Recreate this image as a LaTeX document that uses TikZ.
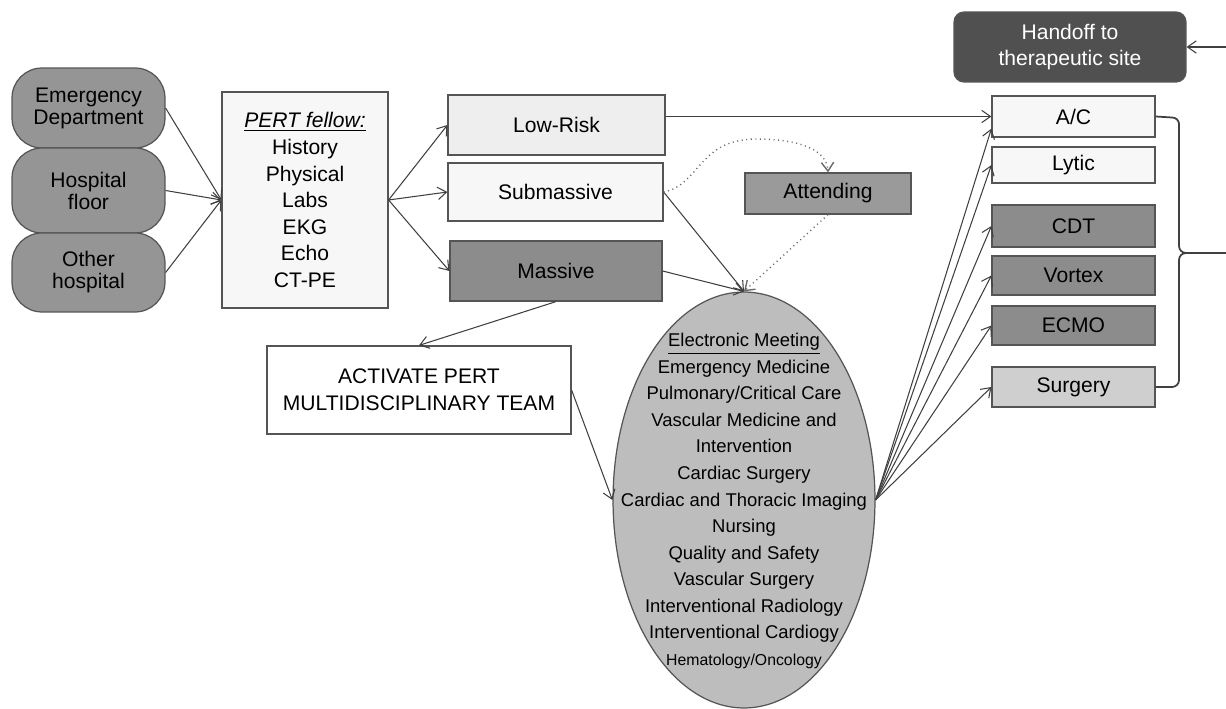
\documentclass[tikz,border=0pt]{standalone}
\usepackage{fontspec}
\setmainfont{Liberation Sans}
\usetikzlibrary{arrows.meta,shapes.geometric}
\definecolor{bordc}{HTML}{555555}
\definecolor{linec}{HTML}{404040}
\definecolor{srcfill}{HTML}{959595}
\definecolor{lightfill}{HTML}{F7F7F7}
\definecolor{lowfill}{HTML}{EEEEEE}
\definecolor{darkfill}{HTML}{8C8C8C}
\definecolor{attfill}{HTML}{9A9A9A}
\definecolor{ellfill}{HTML}{BDBDBD}
\definecolor{surgfill}{HTML}{CFCFCF}
\definecolor{handfill}{HTML}{505050}
\definecolor{dotc}{HTML}{6A6A6A}
\tikzset{
  box/.style={draw=bordc, line width=0.7pt, rectangle, inner sep=0pt, align=center,
     font=\fontsize{12}{15.1}\selectfont},
  srcbox/.style={box, fill=srcfill, rounded corners=0.6cm, minimum width=3.06cm,
     font=\fontsize{12}{12.5}\selectfont},
  rbox/.style={box, minimum width=3.26cm},
  conn/.style={draw=linec, line width=0.6pt, -{Straight Barb[length=5pt,width=7pt]}},
  dotconn/.style={conn, dotted, draw=dotc, line width=0.8pt},
  ellbox/.style={draw=bordc, line width=0.7pt, ellipse, fill=ellfill, inner sep=0pt,
     minimum width=5.24cm, minimum height=8.32cm},
  brace/.style={draw=linec, line width=1pt}
}
\begin{document}
\begin{tikzpicture}[x=0.02cm,y=-0.02cm]
\useasboundingbox (0,0) rectangle (1226,709);
% sources
\node[srcbox, minimum height=1.6cm] (ed) at (88.5,108) {Emergency\\Department};
\node[srcbox, minimum height=1.7cm] (hf) at (88.5,190.5) {Hospital\\floor};
\node[srcbox, minimum height=1.58cm] (oh) at (88.5,272.5) {Other\\hospital};
% PERT fellow
\node[box, fill=lightfill, minimum width=3.32cm, minimum height=4.32cm] (pert) at (305,200)
  {\textit{\underline{PERT fellow:}}\\History\\Physical\\Labs\\EKG\\Echo\\CT-PE};
% risk
\node[box, fill=lowfill, minimum width=4.34cm, minimum height=1.2cm] (low) at (556.5,125) {Low-Risk};
\node[box, fill=lightfill, minimum width=4.3cm, minimum height=1.16cm] (sub) at (555.5,192) {Submassive};
\node[box, fill=darkfill, minimum width=4.24cm, minimum height=1.2cm] (mass) at (556,271) {Massive};
\node[box, fill=attfill, minimum width=3.32cm, minimum height=0.82cm] (att) at (828,193.5) {Attending};
% activate
\node[box, fill=white, minimum width=6.08cm, minimum height=1.76cm] (act) at (419,390)
  {ACTIVATE PERT\\MULTIDISCIPLINARY TEAM};
% ellipse
\node[ellbox] (ell) at (744,500) {};
\node[align=center, inner sep=0pt, font=\fontsize{10.5}{15.1}\selectfont] (team) at (744,501)
  {\underline{Electronic Meeting}\\Emergency Medicine\\Pulmonary/Critical Care\\Vascular Medicine and\\Intervention\\Cardiac Surgery\\Cardiac and Thoracic Imaging\\Nursing\\Quality and Safety\\Vascular Surgery\\Interventional Radiology\\Interventional Cardiogy\\{\fontsize{9}{15.1}\selectfont Hematology/Oncology}};
% therapies
\node[rbox, fill=lightfill, minimum height=0.82cm] (ac) at (1073.5,116.5) {A/C};
\node[rbox, fill=lightfill, minimum height=0.72cm] (lytic) at (1073.5,165) {Lytic};
\node[rbox, fill=darkfill, minimum height=0.84cm] (cdt) at (1073.5,226) {CDT};
\node[rbox, fill=darkfill, minimum height=0.78cm] (vortex) at (1073.5,275.5) {Vortex};
\node[rbox, fill=darkfill, minimum height=0.78cm] (ecmo) at (1073.5,325.5) {ECMO};
\node[rbox, fill=surgfill, minimum height=0.8cm] (surg) at (1073.5,387) {Surgery};
\node[box, fill=handfill, text=white, rounded corners=0.2cm, minimum width=4.64cm, minimum height=1.4cm,
  font=\fontsize{12}{15.3}\selectfont] (hand) at (1070,47) {Handoff to\\therapeutic site};
\coordinate (hin) at (1226,47);
\coordinate (brout) at (1226,253);
% connectors
\draw[conn] (ed.east) -- (pert.west);
\draw[conn] (hf.east) -- (pert.west);
\draw[conn] (oh.east) -- (pert.west);
\draw[conn] (pert.east) -- (low.west);
\draw[conn] (pert.east) -- (sub.west);
\draw[conn] (pert.east) -- (mass.west);
\draw[conn] (low.east |- ac.west) -- (ac.west);
\draw[conn] (sub.east) -- (ell.north);
\draw[conn] (mass.east) -- (ell.north);
\draw[dotconn] (att.south) -- (ell.north);
\draw[dotconn] (sub.east) .. controls (700,185) and (698,140) .. (755,139) .. controls (800,139) and (827,150) .. (att.north);
\draw[conn] (mass.south) -- (act.north);
\draw[conn] (act.east) -- (ell.west);
\draw[conn] (ell.east) -- ([yshift=0.18cm]ac.south west);
\draw[conn] (ell.east) -- (lytic.west);
\draw[conn] (ell.east) -- (cdt.west);
\draw[conn] (ell.east) -- (vortex.west);
\draw[conn] (ell.east) -- (ecmo.west);
\draw[conn] (ell.east) -- (surg.west);
\draw[conn] (hin) -- (hand.east);
% brace
\draw[brace] (ac.east) -- (1172,117.5) to[out=0,in=90] (1179,124) -- (1179,246)
  to[out=-90,in=180] (1186,253) -- (brout);
\draw[brace] (1186,253) to[out=180,in=90] (1179,260) -- (1179,380)
  to[out=-90,in=0] (1172,387) -- (surg.east);
\end{tikzpicture}
\end{document}
